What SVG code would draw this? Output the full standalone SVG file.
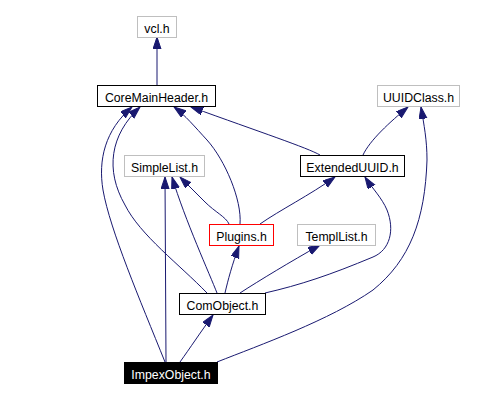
<svg xmlns="http://www.w3.org/2000/svg" width="481" height="401" viewBox="0 0 481 401">
<style>
.n rect{fill:#fff;stroke-width:1}
.ext rect{stroke:#bfbfbf}
.int rect{stroke:#000}
text{font-family:"Liberation Sans",Arial,sans-serif;font-size:12.3px;text-anchor:middle;fill:#000}
text.w{fill:#fff}
.e path{fill:none;stroke:#191970;stroke-width:1;marker-end:url(#ah)}
</style>
<defs>
<marker id="ah" markerUnits="userSpaceOnUse" markerWidth="13" markerHeight="9" refX="12" refY="4" orient="auto">
<path d="M0,0 L12,4 L0,8 z" fill="#191970" stroke="#191970" stroke-width="1"/>
</marker>
</defs>
<rect width="481" height="401" fill="#fff"/>
<g id="edges" class="e">
<path d="M157,85 L157,37"/>
<path d="M320,155 C308,148 260,132 191,107"/>
<path d="M363,155 C370,140 390,122 408,107"/>
<path d="M240,224 C242,200 225,160 207,140 C195,127 185,115 174,107"/>
<path d="M229,224 C226,217 215,212 205,202 L180,177"/>
<path d="M260,224 C280,210 310,195 335,177"/>
<path d="M225,293 C228,280 232,265 239,246"/>
<path d="M217,293 C210,275 185,220 172,177"/>
<path d="M207,293 C180,265 140,235 125,205 C105,170 110,135 140,107"/>
<path d="M240,293 C260,280 290,262 320,245"/>
<path d="M265,293 C300,285 330,275 373,257 C390,250 395,230 387,210 C382,198 372,188 365,177"/>
<path d="M180,362 C190,348 200,333 213,315"/>
<path d="M166,362 L165,177"/>
<path d="M217,362 C260,345 330,320 373,290 C410,260 425,220 427,160 C427,140 424,125 421,107"/>
<path d="M165,362 C140,300 110,230 103,190 C98,160 105,130 132,107"/>
</g>
<g id="vcl" class="n ext"><rect x="137.5" y="16.5" width="39" height="21"/><text x="157" y="33">vcl.h</text></g>
<g id="CoreMainHeader" class="n int"><rect x="97.5" y="85.5" width="118" height="21"/><text x="156.5" y="102">CoreMainHeader.h</text></g>
<g id="UUIDClass" class="n ext"><rect x="377.5" y="85.5" width="82" height="21"/><text x="418.5" y="102">UUIDClass.h</text></g>
<g id="SimpleList" class="n ext"><rect x="124.5" y="155.5" width="80" height="21"/><text x="164.5" y="172">SimpleList.h</text></g>
<g id="ExtendedUUID" class="n int"><rect x="300.5" y="155.5" width="104" height="21"/><text x="352.5" y="172">ExtendedUUID.h</text></g>
<g id="Plugins" class="n"><rect x="209.5" y="224.5" width="64" height="21" stroke="#ff0000"/><text x="241.5" y="241">Plugins.h</text></g>
<g id="TemplList" class="n ext"><rect x="297.5" y="224.5" width="78" height="21"/><text x="336.5" y="241">TemplList.h</text></g>
<g id="ComObject" class="n int"><rect x="179.5" y="293.5" width="86" height="21"/><text x="222.5" y="310">ComObject.h</text></g>
<g id="ImpexObject"><rect x="124" y="362" width="94" height="22" fill="#000"/><text class="w" x="171" y="378.5">ImpexObject.h</text></g>
</svg>
